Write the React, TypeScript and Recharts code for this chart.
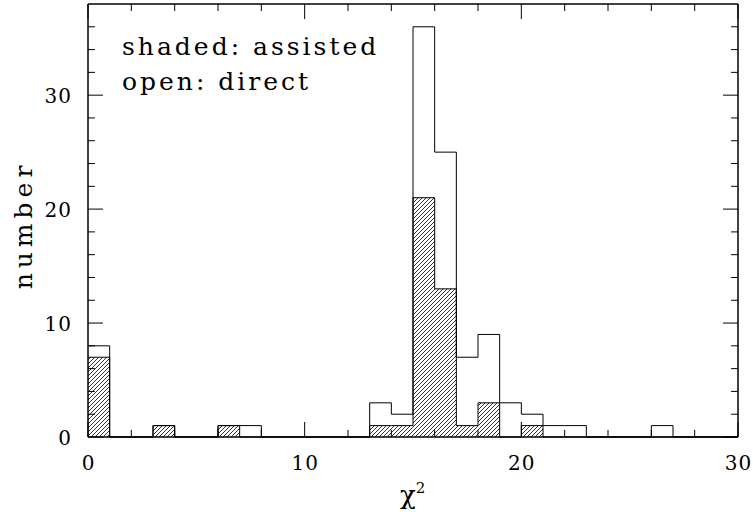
import React from 'react';
import { ComposedChart, Area, XAxis, YAxis, ReferenceLine } from 'recharts';

// histogram bins (left edges), width 1
const binStarts = [0, 1, 2, 3, 4, 5, 6, 7, 8, 9, 10, 11, 12, 13, 14, 15, 16, 17, 18, 19, 20, 21, 22, 23, 24, 25, 26, 27, 28, 29, 30];
// open histogram: direct
const openCounts = [8, 0, 0, 1, 0, 0, 1, 1, 0, 0, 0, 0, 0, 3, 2, 36, 25, 7, 9, 3, 2, 1, 1, 0, 0, 0, 1, 0, 0, 0, 0];
// shaded histogram: assisted
const shadedCounts = [7, 0, 0, 1, 0, 0, 1, 0, 0, 0, 0, 0, 0, 1, 1, 21, 13, 1, 3, 0, 1, 0, 0, 0, 0, 0, 0, 0, 0, 0, 0];

const xTicks = [0, 2, 4, 6, 8, 10, 12, 14, 16, 18, 20, 22, 24, 26, 28, 30];
const xMajor = [0, 10, 20, 30];
const yTicks = [0, 2, 4, 6, 8, 10, 12, 14, 16, 18, 20, 22, 24, 26, 28, 30, 32, 34, 36];
const yMajor = [0, 10, 20, 30];

const legendLines = ['shaded: assisted', 'open: direct'];
const yLabel = 'number';

const X_MAX = 30;
const Y_MAX = 38;
// tick lengths in data units (major, minor)
const X_TICK_LEN = [0.69, 0.32];
const Y_TICK_LEN = [1.32, 0.62];

const data = binStarts.map((x, i) => ({ x, open: openCounts[i], shaded: shadedCounts[i] }));

const FONT = '"DejaVu Serif", serif';

const LeftLabel = (props: any) => {
  const { x, y, payload } = props;
  if (!yMajor.includes(payload.value)) return <g />;
  return (
    <text x={x - 16} y={y + 7.5} textAnchor="end" fontFamily={FONT} fontSize={20} letterSpacing={1} fill="#000">
      {payload.value}
    </text>
  );
};

const BottomLabel = (props: any) => {
  const { x, y, payload } = props;
  if (!xMajor.includes(payload.value)) return <g />;
  return (
    <text x={x + 0.5} y={y + 33} textAnchor="middle" fontFamily={FONT} fontSize={20} letterSpacing={1} fill="#000">
      {payload.value}
    </text>
  );
};

export default function App() {
  const tickLines: React.ReactNode[] = [];
  yTicks.forEach((v) => {
    const len = yMajor.includes(v) ? X_TICK_LEN[0] : X_TICK_LEN[1];
    tickLines.push(
      <ReferenceLine key={'l' + v} segment={[{ x: 0, y: v }, { x: len, y: v }]} stroke="#000" strokeWidth={1} ifOverflow="visible" />
    );
    tickLines.push(
      <ReferenceLine key={'r' + v} segment={[{ x: X_MAX - len, y: v }, { x: X_MAX, y: v }]} stroke="#000" strokeWidth={1} ifOverflow="visible" />
    );
  });
  xTicks.forEach((v) => {
    const len = xMajor.includes(v) ? Y_TICK_LEN[0] : Y_TICK_LEN[1];
    tickLines.push(
      <ReferenceLine key={'b' + v} segment={[{ x: v, y: 0 }, { x: v, y: len }]} stroke="#000" strokeWidth={1} ifOverflow="visible" />
    );
    tickLines.push(
      <ReferenceLine key={'t' + v} segment={[{ x: v, y: Y_MAX - len }, { x: v, y: Y_MAX }]} stroke="#000" strokeWidth={1} ifOverflow="visible" />
    );
  });

  return (
    <div style={{ position: 'absolute', left: 0, top: 0, width: 753, height: 512, background: '#fff' }}>
      <ComposedChart width={753} height={512} data={data} margin={{ top: 3, right: 14, bottom: 0, left: 0 }}>
        <defs>
          <pattern id="hatch" patternUnits="userSpaceOnUse" width={4} height={4}>
            <path d="M-1,1 l2,-2 M0,4 l4,-4 M3,5 l2,-2" stroke="#000" strokeWidth={0.8} />
          </pattern>
        </defs>
        <XAxis
          dataKey="x"
          type="number"
          domain={[0, X_MAX]}
          ticks={xTicks}
          interval={0}
          tickSize={0}
          tickMargin={0}
          tickLine={false}
          axisLine={{ stroke: '#000', strokeWidth: 1.5 }}
          tick={BottomLabel}
          height={75}
        />
        <XAxis
          xAxisId="top"
          orientation="top"
          dataKey="x"
          type="number"
          domain={[0, X_MAX]}
          ticks={xTicks}
          tickLine={false}
          tick={false}
          axisLine={{ stroke: '#000', strokeWidth: 1.5 }}
          height={1}
        />
        <YAxis
          type="number"
          domain={[0, Y_MAX]}
          ticks={yTicks}
          interval={0}
          tickSize={0}
          tickMargin={0}
          tickLine={false}
          axisLine={{ stroke: '#000', strokeWidth: 1.5 }}
          tick={LeftLabel}
          width={88}
        />
        <YAxis
          yAxisId="right"
          orientation="right"
          type="number"
          domain={[0, Y_MAX]}
          ticks={yTicks}
          tickLine={false}
          tick={false}
          axisLine={{ stroke: '#000', strokeWidth: 1.5 }}
          width={1}
        />
        <Area
          type="stepAfter"
          dataKey="shaded"
          stroke="#000"
          strokeWidth={1}
          fill="url(#hatch)"
          fillOpacity={1}
          isAnimationActive={false}
          dot={false}
          activeDot={false}
        />
        <Area
          type="stepAfter"
          dataKey="open"
          stroke="#000"
          strokeWidth={1}
          fill="none"
          isAnimationActive={false}
          dot={false}
          activeDot={false}
        />
        {tickLines}
        <text x={122} y={55} fontFamily={FONT} fontSize={25} letterSpacing={3} fill="#000">
          {legendLines[0]}
        </text>
        <text x={122} y={90} fontFamily={FONT} fontSize={25} letterSpacing={3} fill="#000">
          {legendLines[1]}
        </text>
        <text transform="translate(32,225) rotate(-90)" textAnchor="middle" fontFamily={FONT} fontSize={25} letterSpacing={5} fill="#000">
          {yLabel}
        </text>
        <text x={400} y={504} fontFamily={FONT} fontSize={26} fill="#000">
          χ<tspan fontSize={15} dy={-11}>2</tspan>
        </text>
      </ComposedChart>
    </div>
  );
}
